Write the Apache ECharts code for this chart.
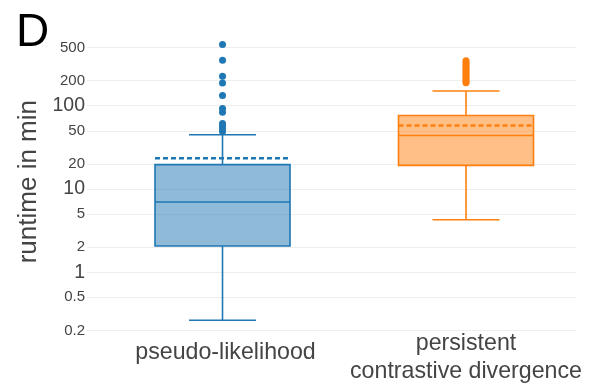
<!DOCTYPE html>
<html>
<head>
<meta charset="utf-8">
<script src="https://cdn.jsdelivr.net/npm/echarts@6/dist/echarts.min.js"></script>
<style>
  html, body { margin: 0; padding: 0; background: #fff; }
  #chart { width: 600px; height: 385px; }
</style>
</head>
<body>
<div id="chart"></div>
<script>
// Runtime distributions of the two training methods (minutes, log scale)
const categories = ['pseudo-likelihood', 'persistent\ncontrastive divergence'];

// [category index, lower whisker, Q1, median, Q3, upper whisker, mean]
const pseudoBox = [0, 0.266, 2.07, 6.97, 19.6, 44.7, 23.4];
const pcdBox    = [1, 4.27, 19.2, 43.9, 76.4, 150, 57.9];

// points beyond the whiskers
const pseudoOutliers = [543, 351, 225, 187, 133, 92.8, 83.7, 61.2, 56.8, 52.7, 49.0];
const pcdOutliers = [347, 330, 312, 296, 281, 266, 252, 240, 228, 216, 205, 195, 188];

const yTicks = [0.2, 0.5, 1, 2, 5, 10, 20, 50, 100, 200, 500];

const BLUE = '#1f77b4';
const ORANGE = '#ff7f0e';

function boxRenderer(color, fill) {
  return function (params, api) {
    const x = api.value(0);
    const lo = api.coord([x, api.value(1)]);
    const q1 = api.coord([x, api.value(2)]);
    const med = api.coord([x, api.value(3)]);
    const q3 = api.coord([x, api.value(4)]);
    const hi = api.coord([x, api.value(5)]);
    const mean = api.coord([x, api.value(6)]);
    const cx = lo[0];
    const half = 67.5, cap = 33.5;
    const line = { stroke: color, lineWidth: 1.6, fill: null };
    return {
      type: 'group',
      children: [
        { type: 'line', shape: { x1: cx, y1: q1[1], x2: cx, y2: lo[1] }, style: line },
        { type: 'line', shape: { x1: cx, y1: q3[1], x2: cx, y2: hi[1] }, style: line },
        { type: 'line', shape: { x1: cx - cap, y1: lo[1], x2: cx + cap, y2: lo[1] }, style: line },
        { type: 'line', shape: { x1: cx - cap, y1: hi[1], x2: cx + cap, y2: hi[1] }, style: line },
        { type: 'rect', shape: { x: cx - half, y: q3[1], width: 2 * half, height: q1[1] - q3[1] },
          style: { fill: fill, stroke: color, lineWidth: 1.6 } },
        { type: 'line', shape: { x1: cx - half, y1: med[1], x2: cx + half, y2: med[1] }, style: line },
        { type: 'line', shape: { x1: cx - half, y1: mean[1], x2: cx + half, y2: mean[1] },
          style: { stroke: color, lineWidth: 2.5, lineDash: [5, 3], fill: null } }
      ]
    };
  };
}

function toPoints(idx, vals) {
  return vals.map(v => [idx, v]);
}

function tickText(v) {
  let best = yTicks[0];
  yTicks.forEach(t => { if (Math.abs(Math.log10(t) - Math.log10(v)) < Math.abs(Math.log10(best) - Math.log10(v))) best = t; });
  const isDecade = Math.abs(Math.log10(best) - Math.round(Math.log10(best))) < 1e-9;
  return isDecade ? '{big|' + best + '}' : '{small|' + best + '}';
}

const chart = echarts.init(document.getElementById('chart'), null, { renderer: 'canvas' });

chart.setOption({
  animation: false,
  backgroundColor: '#fff',
  textStyle: { fontFamily: 'Liberation Sans, Arial, sans-serif' },
  title: {
    text: 'D',
    left: 11,
    top: 5,
    textStyle: { fontSize: 46, fontWeight: 'normal', color: '#000', fontFamily: 'Liberation Sans, Arial, sans-serif' }
  },
  grid: { left: 87, right: 24, top: 22.4, bottom: 44.1 },
  xAxis: {
    type: 'value',
    min: -0.5565,
    max: 1.4517,
    axisLine: { show: false },
    axisTick: { show: false },
    splitLine: { show: false },
    axisLabel: {
      customValues: [0, 1],
      margin: -11,
      color: '#444',
      formatter: function (v) {
        const i = Math.round(v);
        const lines = categories[i].split('\n');
        if (lines.length === 1) return '{one|' + lines[0] + '}';
        return lines.map(s => '{two|' + s + '}').join('\n');
      },
      rich: {
        one: { fontSize: 23.2, lineHeight: 46, color: '#444', fontFamily: 'Liberation Sans, Arial, sans-serif', padding: [0, 0, 0, 6] },
        two: { fontSize: 23.2, lineHeight: 28, color: '#444', fontFamily: 'Liberation Sans, Arial, sans-serif' }
      }
    }
  },
  yAxis: {
    type: 'log',
    logBase: 10,
    min: 0.15,
    max: 1000,
    name: 'runtime in min',
    nameLocation: 'middle',
    nameGap: 37,
    nameTextStyle: { fontSize: 26, color: '#444', fontFamily: 'Liberation Sans, Arial, sans-serif' },
    axisLine: { show: false },
    axisTick: { show: false, customValues: yTicks },
    splitLine: { show: true, lineStyle: { color: '#eeeeee', width: 1 } },
    axisLabel: {
      customValues: yTicks,
      margin: 2,
      color: '#444',
      formatter: tickText,
      rich: {
        big: { fontSize: 19.5, color: '#444', fontFamily: 'Liberation Sans, Arial, sans-serif' },
        small: { fontSize: 15, color: '#444', fontFamily: 'Liberation Sans, Arial, sans-serif' }
      }
    }
  },
  series: [
    {
      type: 'custom',
      renderItem: boxRenderer(BLUE, 'rgba(31,119,180,0.5)'),
      encode: { x: 0, y: [1, 2, 3, 4, 5, 6] },
      data: [pseudoBox],
      z: 2
    },
    {
      type: 'custom',
      renderItem: boxRenderer(ORANGE, 'rgba(255,127,14,0.5)'),
      encode: { x: 0, y: [1, 2, 3, 4, 5, 6] },
      data: [pcdBox],
      z: 2
    },
    {
      type: 'scatter',
      data: toPoints(0, pseudoOutliers),
      symbolSize: 7,
      itemStyle: { color: BLUE, opacity: 1 },
      z: 3
    },
    {
      type: 'scatter',
      data: toPoints(1, pcdOutliers),
      symbolSize: 7,
      itemStyle: { color: ORANGE, opacity: 1 },
      z: 3
    }
  ]
});
</script>
</body>
</html>
